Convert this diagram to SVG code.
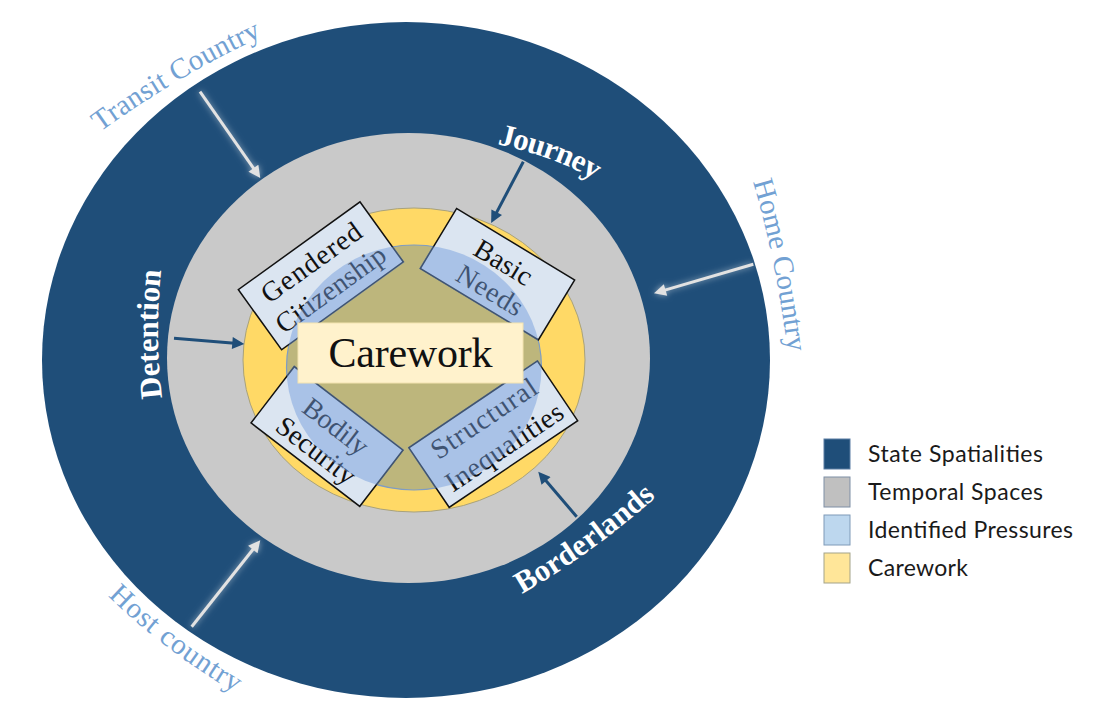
<svg xmlns="http://www.w3.org/2000/svg" width="1120" height="710" viewBox="0 0 1120 710">
<style>
.pr{fill:#dbe5f1;stroke:#111;stroke-width:1.5}
.ov{fill:#739cdb;fill-opacity:0.48;stroke:none}
.pt{font-family:"Liberation Serif",serif;font-size:28px;fill:#111;text-anchor:middle}
.out{font-family:"Liberation Serif",serif;font-size:29px;fill:#72a1d3}
.in{font-family:"Liberation Serif",serif;font-size:31px;font-weight:bold;fill:#ffffff}
.lg{font-family:Lato,"Liberation Sans",sans-serif;font-size:23px;fill:#1a1a1a}
.dk{stroke:#1f4e79;stroke-width:3;fill:none;marker-end:url(#hd)}
.lt{stroke:#e2e2e2;stroke-width:3;fill:none;marker-end:url(#hl);filter:url(#glow)}
</style>
<defs>
<marker id="hd" viewBox="0 0 10 10" refX="2" refY="5" markerWidth="5" markerHeight="4" orient="auto" markerUnits="strokeWidth"><path d="M0,0 L10,5 L0,10 z" fill="#1f4e79"/></marker>
<marker id="hl" viewBox="0 0 10 10" refX="2" refY="5" markerWidth="5" markerHeight="4" orient="auto" markerUnits="strokeWidth"><path d="M0,0 L10,5 L0,10 z" fill="#e2e2e2"/></marker>
<filter id="glow" filterUnits="userSpaceOnUse" x="0" y="0" width="1120" height="710">
<feGaussianBlur in="SourceAlpha" stdDeviation="3" result="b"/>
<feFlood flood-color="#ffffff" flood-opacity="0.55"/>
<feComposite in2="b" operator="in" result="g"/>
<feMerge><feMergeNode in="g"/><feMergeNode in="SourceGraphic"/></feMerge>
</filter>
<clipPath id="pc"><ellipse cx="414" cy="367.5" rx="127.5" ry="122.5"/></clipPath>
<path id="p-transit" d="M 100,132 Q 183,72 272,32"/>
<path id="p-home" d="M 753,182 Q 777,262 789,362"/>
<path id="p-host" d="M 108,596 Q 165,652 244,698"/>
<path id="p-journey" d="M 497,144 Q 571.5,161.5 600,185"/>
<path id="p-border" d="M 522,594 Q 595,552 664,490"/>
<path id="p-detention" d="M 162,398 Q 154,331 162,264"/>
</defs>

<g id="state-spatialities"><ellipse cx="406" cy="360" rx="364" ry="338" fill="#1f4e79"/></g>
<g id="temporal-spaces"><ellipse cx="408.5" cy="358" rx="241.5" ry="225" fill="#c9c9c9"/></g>
<g id="carework-zone">
<ellipse cx="414" cy="360" rx="171" ry="152" fill="#ffd966" stroke="#a9a27a" stroke-width="1"/>
<ellipse cx="414" cy="367.5" rx="127.5" ry="122.5" fill="#bdb67c" stroke="#7e9cc4" stroke-width="1.2"/>
</g>

<g id="node-gendered-citizenship">
<rect class="pr" x="-75" y="-37" width="150" height="74" transform="translate(320.8,275.8) rotate(-35.8)"/>
<text class="pt" x="0" y="-7" textLength="117" transform="translate(320.8,275.8) rotate(-35.8)">Gendered</text>
<text class="pt" x="0" y="26" textLength="129" transform="translate(320.8,275.8) rotate(-35.8)">Citizenship</text>
<g clip-path="url(#pc)"><rect class="ov" x="-76" y="-38" width="152" height="76" transform="translate(320.8,275.8) rotate(-35.8)"/></g>
</g>

<g id="node-basic-needs">
<rect class="pr" x="-69" y="-35" width="138" height="70" transform="translate(497.5,274.2) rotate(31.2)"/>
<text class="pt" x="-1" y="-4" textLength="63" transform="translate(497.5,274.2) rotate(31.2)">Basic</text>
<text class="pt" x="2" y="27" textLength="73" transform="translate(497.5,274.2) rotate(31.2)">Needs</text>
<g clip-path="url(#pc)"><rect class="ov" x="-70" y="-36" width="140" height="72" transform="translate(497.5,274.2) rotate(31.2)"/></g>
</g>

<g id="node-bodily-security">
<rect class="pr" x="-68.5" y="-35.5" width="137" height="71" transform="translate(327,436.5) rotate(37.5)"/>
<text class="pt" x="1" y="-4" textLength="75" transform="translate(327,436.5) rotate(37.5)">Bodily</text>
<text class="pt" x="0" y="27" textLength="93" transform="translate(327,436.5) rotate(37.5)">Security</text>
<g clip-path="url(#pc)"><rect class="ov" x="-69.5" y="-36.5" width="139" height="73" transform="translate(327,436.5) rotate(37.5)"/></g>
</g>

<g id="node-structural-inequalities">
<rect class="pr" x="-77.5" y="-36" width="155" height="72" transform="translate(493.3,434.2) rotate(-34)"/>
<text class="pt" x="1" y="-9" textLength="122" transform="translate(493.3,434.2) rotate(-34)">Structural</text>
<text class="pt" x="2" y="26" textLength="136" transform="translate(493.3,434.2) rotate(-34)">Inequalities</text>
<g clip-path="url(#pc)"><rect class="ov" x="-78.5" y="-37" width="157" height="74" transform="translate(493.3,434.2) rotate(-34)"/></g>
</g>

<g id="node-carework">
<rect x="298" y="323" width="225" height="60" fill="#fff2cc" stroke="#f3e3b0" stroke-width="1"/>
<text x="410.5" y="367" font-family="Liberation Serif, serif" font-size="42" fill="#111" text-anchor="middle" textLength="164">Carework</text>
</g>

<g id="connectors">
<line class="lt" x1="200" y1="91.7" x2="254.8" y2="170.2"/>
<line class="lt" x1="753.3" y1="264.3" x2="663.2" y2="290.6"/>
<line class="lt" x1="191.7" y1="626.7" x2="254.3" y2="547.7"/>
<line class="dk" x1="523.3" y1="161.7" x2="495.6" y2="214.4"/>
<line class="dk" x1="174" y1="338.3" x2="234.7" y2="343.3"/>
<line class="dk" x1="576.7" y1="516.7" x2="544.5" y2="479.1"/>
</g>

<g id="label-transit-country"><text class="out"><textPath href="#p-transit" textLength="188">Transit Country</textPath></text></g>
<g id="label-home-country"><text class="out"><textPath href="#p-home" textLength="174">Home Country</textPath></text></g>
<g id="label-host-country"><text class="out"><textPath href="#p-host" textLength="160">Host country</textPath></text></g>
<g id="label-journey"><text class="in"><textPath href="#p-journey" textLength="104">Journey</textPath></text></g>
<g id="label-detention"><text class="in"><textPath href="#p-detention" textLength="128">Detention</textPath></text></g>
<g id="label-borderlands"><text class="in"><textPath href="#p-border" textLength="166">Borderlands</textPath></text></g>

<g id="legend">
<rect x="824" y="439" width="26" height="30" fill="#1f4e79" stroke="#5b7da3" stroke-width="1"/>
<text class="lg" x="868" y="462" textLength="175">State Spatialities</text>
<rect x="824" y="477" width="26" height="30" fill="#c0c0c0" stroke="#7f8fa6" stroke-width="1"/>
<text class="lg" x="868" y="500" textLength="175">Temporal Spaces</text>
<rect x="824" y="515" width="26" height="30" fill="#bdd7ee" stroke="#7f9ab8" stroke-width="1"/>
<text class="lg" x="868" y="538" textLength="205">Identified Pressures</text>
<rect x="824" y="553" width="26" height="30" fill="#ffe699" stroke="#a3a38a" stroke-width="1"/>
<text class="lg" x="868" y="576" textLength="100">Carework</text>
</g>
</svg>
